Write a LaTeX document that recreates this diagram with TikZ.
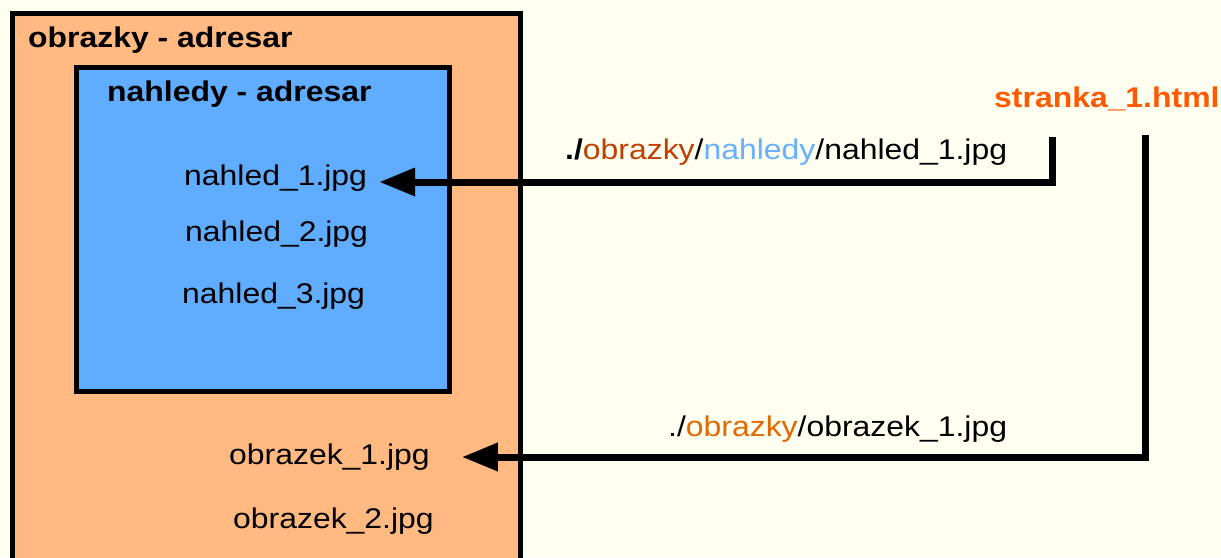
\documentclass[tikz,border=0pt]{standalone}
\usepackage{fontspec}
\setmainfont{Liberation Sans}[FakeStretch=1.12]
\usetikzlibrary{arrows.meta}
\definecolor{bgc}{HTML}{FEFFF0}
\definecolor{peach}{HTML}{FFB981}
\definecolor{skyb}{HTML}{60ACFF}
\definecolor{htmlor}{HTML}{FF5A00}
\definecolor{brownor}{HTML}{C04000}
\definecolor{lightor}{HTML}{E06A00}
\definecolor{lblue}{HTML}{66B0FF}
\tikzset{
  txt/.style={anchor=base west, inner sep=0pt, font=\fontsize{28.5}{31}\selectfont},
  btxt/.style={txt, font=\fontsize{28.5}{31}\selectfont\bfseries},
  dirbox/.style={draw=black, line width=5pt},
  link/.style={line width=7pt, -{Triangle[length=36pt,width=27pt]}}
}
\begin{document}
\begin{tikzpicture}[x=1pt,y=-1pt]
\useasboundingbox (0,0) rectangle (1221,557);
\clip (0,0) rectangle (1221,557);
\fill[bgc] (0,0) rectangle (1221,557);
\draw[dirbox, fill=peach] (12.5,13) rectangle (520.5,600);
\draw[dirbox, fill=skyb] (76.5,67.5) rectangle (449.5,391.5);
\node[btxt] (obr) at (28,47) {obrazky - adresar};
\node[btxt] (nah) at (107,101) {nahledy - adresar};
\node[txt] (n1) at (184,185) {nahled\_1.jpg};
\node[txt] (n2) at (185,241) {nahled\_2.jpg};
\node[txt] (n3) at (182,303) {nahled\_3.jpg};
\node[txt] (o1) at (229,464) {obrazek\_1.jpg};
\node[txt] (o2) at (233,528) {obrazek\_2.jpg};
\node[btxt, text=htmlor] (page) at (994,107) {stranka\_1.html};
\node[txt] (l1) at (565,159) {\textbf{./}\textcolor{brownor}{obrazky}/\textcolor{lblue}{nahledy}/nahled\_1.jpg};
\node[txt] (l2) at (668,436) {./\textcolor{lightor}{obrazky}/obrazek\_1.jpg};
\coordinate (s1) at (1052.5,137);
\coordinate (s2) at (1145.5,135);
\coordinate (t1) at ([shift={(12,-3)}]n1.base east);
\coordinate (t2) at ([shift={(32,-7)}]o1.base east);
\draw[link] (s1) |- (t1);
\draw[link] (s2) |- (t2);
\end{tikzpicture}
\end{document}
